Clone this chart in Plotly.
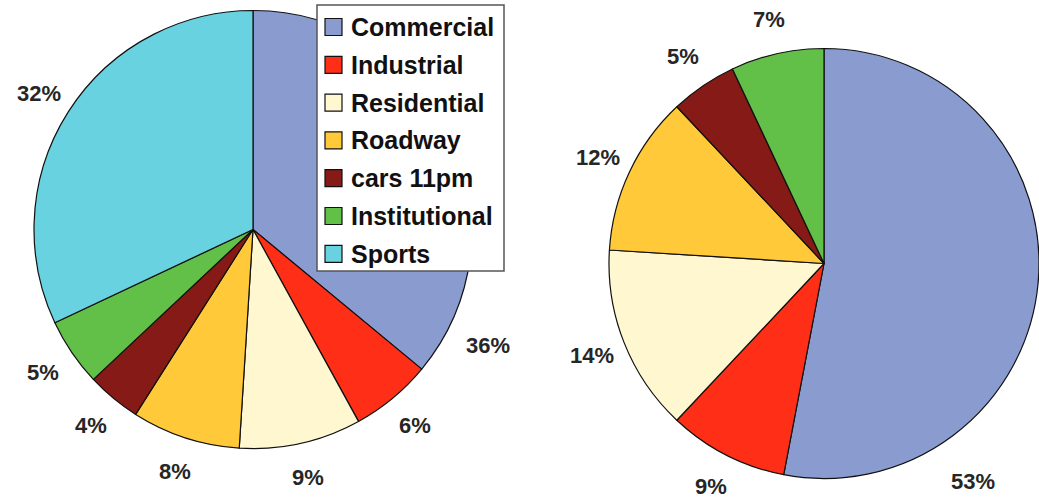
import math
import plotly.graph_objects as go

# ---- data ----
categories = ["Commercial", "Industrial", "Residential", "Roadway", "cars 11pm", "Institutional", "Sports"]
colors = ["#8A9BD0", "#FF2E17", "#FFF7D0", "#FFC93A", "#861A17", "#62BF48", "#68D2E0"]
left_values = [36, 6, 9, 8, 4, 5, 32]
right_categories = ["Commercial", "Industrial", "Residential", "Roadway", "cars 11pm", "Institutional"]
right_values = [53, 9, 14, 12, 5, 7]

W, H = 1039, 500

def px_to_paper(x, y):
    return x / W, 1 - y / H

# pie geometry (pixels)
pies = [
    dict(cx=253, cy=229.5, r=219, labels=categories, values=left_values,
         override={0: (116.3, 262)}),
    dict(cx=824, cy=263.5, r=215, labels=right_categories, values=right_values,
         override={0: (145.7, 264)}),
]

fig = go.Figure()
annotations = []
for p in pies:
    x0, y1 = px_to_paper(p["cx"] - p["r"], p["cy"] - p["r"])
    x1, y0 = px_to_paper(p["cx"] + p["r"], p["cy"] + p["r"])
    fig.add_trace(go.Pie(
        labels=p["labels"], values=p["values"],
        marker=dict(colors=[colors[categories.index(l)] for l in p["labels"]],
                    line=dict(color="#111111", width=1.2)),
        sort=False, direction="clockwise", rotation=0,
        textinfo="none", hoverinfo="label+percent", showlegend=False,
        domain=dict(x=[max(0, x0), min(1, x1)], y=[max(0, y0), min(1, y1)]),
    ))
    total = sum(p["values"])
    cum = 0
    for i, v in enumerate(p["values"]):
        mid = (cum + v / 2) / total * 360
        dist = p["r"] + 35
        if i in p["override"]:
            mid, dist = p["override"][i]
        cum += v
        th = math.radians(mid)
        lx = p["cx"] + dist * math.sin(th)
        ly = p["cy"] - dist * math.cos(th)
        ax, ay = px_to_paper(lx, ly)
        annotations.append(dict(
            x=ax, y=ay, xref="paper", yref="paper",
            text=f"<b>{round(v / total * 100)}%</b>", showarrow=False,
            xanchor="center", yanchor="middle",
            font=dict(family="Liberation Sans, Arial", size=22, color="#262626"),
        ))

# ---- custom legend ----
shapes = []
bx0, by0, bx1, by1 = 317, 5, 504, 271
a, b = px_to_paper(bx0, by1)
c, d = px_to_paper(bx1, by0)
shapes.append(dict(type="rect", xref="paper", yref="paper", x0=a, y0=b, x1=c, y1=d,
                   fillcolor="white", line=dict(color="#555555", width=1.5), layer="above"))
for i, cat in enumerate(categories):
    yc = 27 + 37.8 * i
    sx0, sy1 = px_to_paper(325, yc - 8.5)
    sx1, sy0 = px_to_paper(342, yc + 8.5)
    shapes.append(dict(type="rect", xref="paper", yref="paper", x0=sx0, y0=sy0, x1=sx1, y1=sy1,
                       fillcolor=colors[i], line=dict(color="#111111", width=1.2), layer="above"))
    tx, ty = px_to_paper(349, yc)
    annotations.append(dict(
        x=tx, y=ty, xref="paper", yref="paper", text=f"<b>{cat}</b>", showarrow=False,
        xanchor="left", yanchor="middle",
        font=dict(family="Liberation Sans, Arial", size=25, color="#111111"),
    ))

fig.update_layout(
    width=W, height=H, margin=dict(l=0, r=0, t=0, b=0),
    paper_bgcolor="white", plot_bgcolor="white",
    shapes=shapes, annotations=annotations, showlegend=False,
)
fig.write_html("out.html")
